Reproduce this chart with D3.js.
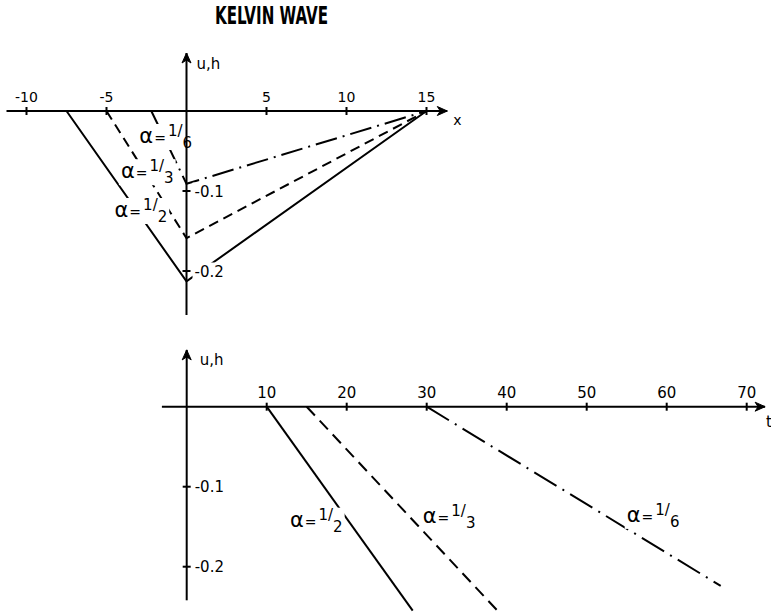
<!DOCTYPE html>
<html>
<head>
<meta charset="utf-8">
<script src="https://cdn.jsdelivr.net/npm/d3@7"></script>
<style>
  html, body { margin: 0; padding: 0; background: #fff; }
  svg { display: block; }
  text { font-family: "DejaVu Sans", sans-serif; fill: #000; }
</style>
</head>
<body>
<script>
// Kelvin wave profiles: u,h against x (upper panel) and against t (lower panel)
const alphas = ["2", "3", "6"];                 // denominators of alpha = 1/2, 1/3, 1/6
const lineStyles = ["solid", "dashed", "dashdot"];

// upper panel: h = 0 at the left front, minimum at x = 0, back to 0 at x = 15
const frontX = [-7.5, -5, -2.2];
const minH = [-0.213, -0.159, -0.091];
const backX = [15, 15, 15];

// lower panel: linear decrease starting at t0, traced down to (t1, h1)
const startT = [10, 15, 30];
const endT = [28.25, 38.95, 66.75];
const endH = [-0.255, -0.256, -0.224];

const xTicks = [-10, -5, 5, 10, 15];
const tTicks = [10, 20, 30, 40, 50, 60, 70];
const hTicks = [-0.1, -0.2];

const W = 771, H = 613;
const svg = d3.select("body").append("svg").attr("width", W).attr("height", H);

const xS = d3.scaleLinear().domain([-10, 15]).range([26.5, 426.5]);
const hTop = d3.scaleLinear().domain([0, -0.2]).range([111, 271]);
const tS = d3.scaleLinear().domain([0, 70]).range([186.7, 746.7]);
const hBot = d3.scaleLinear().domain([0, -0.2]).range([406.7, 566.7]);

const dashes = { solid: null, dashed: "10,6", dashdot: "22,6,2,6" };
const dashesBot = { solid: null, dashed: "12,7", dashdot: "26,7,2,7" };

svg.append("text").attr("x", 271.5).attr("y", 24).attr("text-anchor", "middle")
  .attr("font-size", 24).attr("font-weight", "bold")
  .attr("textLength", 113).attr("lengthAdjust", "spacingAndGlyphs")
  .style("font-family", "'DejaVu Sans Condensed', 'DejaVu Sans', sans-serif")
  .style("font-stretch", "condensed")
  .text("KELVIN WAVE");

const gLines = svg.append("g");
const gLabels = svg.append("g");
const gAxes = svg.append("g");

const line = d3.line();

// upper panel profiles
alphas.forEach((a, i) => {
  const pts = [[xS(frontX[i]), hTop(0)], [xS(0), hTop(minH[i])], [xS(backX[i]), hTop(0)]];
  gLines.append("path").attr("d", line(pts))
    .attr("fill", "none").attr("stroke", "#000").attr("stroke-width", 2)
    .attr("stroke-dasharray", dashes[lineStyles[i]]);
});

// lower panel profiles
alphas.forEach((a, i) => {
  const pts = [[tS(startT[i]), hBot(0)], [tS(endT[i]), hBot(endH[i])]];
  gLines.append("path").attr("d", line(pts))
    .attr("fill", "none").attr("stroke", "#000").attr("stroke-width", 2)
    .attr("stroke-dasharray", dashesBot[lineStyles[i]]);
});

// alpha = 1/n label, with a white backing that breaks the curve beneath it
function alphaLabel(x, y, den) {
  const g = gLabels.append("g");
  const bg = g.append("rect").attr("fill", "#fff");
  const t = g.append("text").attr("x", x).attr("y", y);
  t.append("tspan").attr("font-size", 21).text("α");
  t.append("tspan").attr("font-size", 14).attr("dx", 1).text("=");
  t.append("tspan").attr("font-size", 15).attr("dx", 2).attr("dy", -7).text("1");
  t.append("tspan").attr("font-size", 15).text("/");
  t.append("tspan").attr("font-size", 15).attr("dy", 12).text(den);
  const b = t.node().getBBox();
  bg.attr("x", b.x - 2).attr("y", b.y + 2).attr("width", b.width + 4).attr("height", b.height - 4);
}

alphaLabel(xS(-2.95), hTop(-0.040), "6");
alphaLabel(xS(-4.1), hTop(-0.084), "3");
alphaLabel(xS(-4.5), hTop(-0.1325), "2");
alphaLabel(tS(12.9), hBot(-0.150), "2");
alphaLabel(tS(29.5), hBot(-0.145), "3");
alphaLabel(tS(55.0), hBot(-0.144), "6");

// axes
function hArrow(x, y) {
  gAxes.append("path").attr("d", `M${x - 10},${y - 4.5} L${x},${y} L${x - 10},${y + 4.5} L${x - 7},${y} Z`)
    .attr("fill", "#000").attr("stroke", "#000").attr("stroke-width", 1);
}
function vArrow(x, y) {
  gAxes.append("path").attr("d", `M${x - 4.5},${y + 10} L${x},${y} L${x + 4.5},${y + 10} L${x},${y + 7} Z`)
    .attr("fill", "#000").attr("stroke", "#000").attr("stroke-width", 1);
}
function seg(x1, y1, x2, y2) {
  gAxes.append("line").attr("x1", x1).attr("y1", y1).attr("x2", x2).attr("y2", y2)
    .attr("stroke", "#000").attr("stroke-width", 2);
}
function hTickLabel(x, y, s) {
  const g = gAxes.append("g");
  const bg = g.append("rect").attr("fill", "#fff");
  const t = g.append("text").attr("x", x).attr("y", y).attr("font-size", 15).text(s);
  const b = t.node().getBBox();
  bg.attr("x", b.x - 2).attr("y", b.y).attr("width", b.width + 4).attr("height", b.height);
}

// upper panel axes
const x0 = xS(0), y0 = hTop(0);
seg(xS(-11.25), y0, xS(16.3), y0);
hArrow(xS(16.3), y0);
seg(x0, hTop(0.0725), x0, hTop(-0.255));
vArrow(x0, hTop(0.0725));
xTicks.forEach(v => {
  seg(xS(v), y0 - 4, xS(v), y0 + 4);
  gAxes.append("text").attr("x", xS(v)).attr("y", y0 - 9).attr("font-size", 14)
    .attr("text-anchor", "middle").text(v < 0 ? "-" + Math.abs(v) : v);
});
hTicks.forEach(v => {
  seg(x0 - 4, hTop(v), x0 + 4, hTop(v));
  hTickLabel(x0 + 8, hTop(v) + 5.5, "-" + Math.abs(v).toFixed(1));
});
gAxes.append("text").attr("x", x0 + 10).attr("y", 68.5).attr("font-size", 15).text("u,h");
gAxes.append("text").attr("x", xS(16.3) + 6).attr("y", y0 + 14).attr("font-size", 14).text("x");

// lower panel axes
const tx0 = tS(0), ty0 = hBot(0);
seg(tS(-3.1), ty0, tS(72.3), ty0);
hArrow(tS(72.3), ty0);
seg(tx0, hBot(0.071), tx0, hBot(-0.242));
vArrow(tx0, hBot(0.071));
tTicks.forEach(v => {
  seg(tS(v), ty0 - 4, tS(v), ty0 + 4);
  gAxes.append("text").attr("x", tS(v)).attr("y", ty0 - 9).attr("font-size", 15)
    .attr("text-anchor", "middle").text(v);
});
hTicks.forEach(v => {
  seg(tx0 - 4, hBot(v), tx0 + 4, hBot(v));
  hTickLabel(tx0 + 8, hBot(v) + 5.5, "-" + Math.abs(v).toFixed(1));
});
gAxes.append("text").attr("x", tx0 + 13).attr("y", 365).attr("font-size", 15).text("u,h");
gAxes.append("text").attr("x", 766).attr("y", 427).attr("font-size", 15).text("t");
</script>
</body>
</html>
